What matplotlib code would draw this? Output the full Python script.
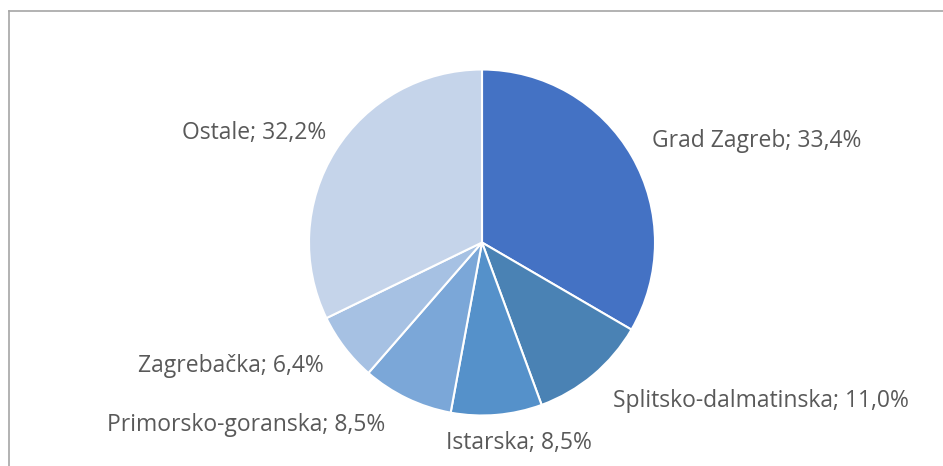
import numpy as np
import matplotlib
matplotlib.use("Agg")
import matplotlib.pyplot as plt
from matplotlib.lines import Line2D

# podaci
regions = ["Grad Zagreb", "Splitsko-dalmatinska", "Istarska",
           "Primorsko-goranska", "Zagrebačka", "Ostale"]
shares = [33.4, 11.0, 8.5, 8.5, 6.4, 32.2]
colors = ["#4472C4", "#4A82B4", "#5591CA", "#7BA7D8", "#A6C1E3", "#C5D4EA"]

# pomaci oznaka (pikseli) od ruba isječka i poravnanje
label_offsets = [(20, 15), (20, -26), (22, -28), (-22, -27), (-21, -18), (-9, 18)]
label_ha = ["left", "left", "center", "right", "right", "right"]

W, H = 943, 466
fig = plt.figure(figsize=(W / 100, H / 100), dpi=100)

cx, cy, r = 482, 242.5, 173
ax = fig.add_axes([(cx - r) / W, (H - cy - r) / H, 2 * r / W, 2 * r / H])
wedges, _ = ax.pie(shares, colors=colors, startangle=90, counterclock=False,
                   radius=1.0, wedgeprops=dict(edgecolor="white", linewidth=1.5))
ax.set_xlim(-1, 1)
ax.set_ylim(-1, 1)
ax.set_aspect("equal")

for w, name, val, off, ha in zip(wedges, regions, shares, label_offsets, label_ha):
    ang = np.deg2rad((w.theta1 + w.theta2) / 2)
    x, y = np.cos(ang), np.sin(ang)
    txt = f"{name}; {val:.1f}%".replace(".", ",")
    ax.annotate(txt, xy=(x, y), xytext=off, textcoords="offset pixels",
                ha=ha, va="center", fontsize=16.5, color="#595959",
                family=["Open Sans", "DejaVu Sans"], annotation_clip=False)

# okvir grafikona
frame_kw = dict(color="#A6A6A6", linewidth=1.2, transform=fig.transFigure)
fig.add_artist(Line2D([9 / W, 1.01], [1 - 11 / H, 1 - 11 / H], **frame_kw))
fig.add_artist(Line2D([9 / W, 9 / W], [-0.01, 1 - 11 / H], **frame_kw))

fig.savefig("out.png", dpi=100)
